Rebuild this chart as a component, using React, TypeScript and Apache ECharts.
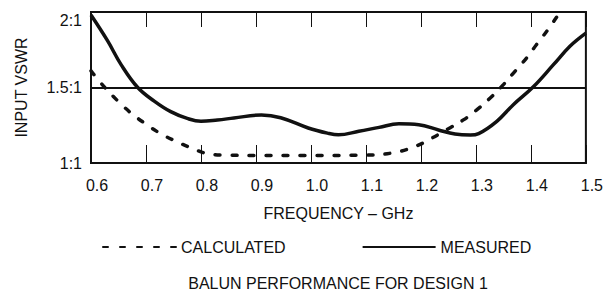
import React, { useEffect, useRef } from "react";
import * as echarts from "echarts";

const xTicks = [0.6, 0.7, 0.8, 0.9, 1.0, 1.1, 1.2, 1.3, 1.4, 1.5];
const yTickLabels: Record<string, string> = { "1": "1:1", "1.5": "1.5:1", "2": "2:1" };

const measuredFreq = [0.6, 0.63, 0.655, 0.685, 0.715, 0.745, 0.775, 0.8, 0.83, 0.86, 0.91, 0.945, 0.995, 1.03, 1.05, 1.087, 1.124, 1.16, 1.196, 1.232, 1.262, 1.29, 1.305, 1.338, 1.368, 1.404, 1.441, 1.471, 1.5];
const measuredVswr = [1.98, 1.81, 1.65, 1.5, 1.41, 1.34, 1.295, 1.276, 1.285, 1.298, 1.318, 1.3, 1.232, 1.198, 1.187, 1.21, 1.236, 1.26, 1.254, 1.219, 1.192, 1.186, 1.195, 1.276, 1.386, 1.503, 1.651, 1.773, 1.86];

const calcFreq = [0.6, 0.625, 0.649, 0.673, 0.697, 0.724, 0.752, 0.782, 0.812, 0.85, 0.9, 1.0, 1.1, 1.15, 1.19, 1.22, 1.25, 1.278, 1.302, 1.326, 1.35, 1.371, 1.392, 1.41, 1.431, 1.45, 1.47];
const calcVswr = [1.61, 1.5, 1.41, 1.33, 1.265, 1.2, 1.148, 1.1, 1.062, 1.052, 1.05, 1.05, 1.052, 1.068, 1.11, 1.165, 1.227, 1.287, 1.353, 1.43, 1.519, 1.607, 1.695, 1.783, 1.883, 1.982, 2.08];

const FONT = "Liberation Sans, Arial, sans-serif";
const FS = 16;

export default function App() {
  const ref = useRef<HTMLDivElement>(null);
  useEffect(() => {
    if (!ref.current) return;
    const chart = echarts.init(ref.current, null, { renderer: "svg" });
    const measured = measuredFreq.map((f, i) => [f, measuredVswr[i]]);
    const calc = calcFreq.map((f, i) => [f, calcVswr[i]]);
    chart.setOption({
      animation: false,
      backgroundColor: "#fff",
      textStyle: { fontFamily: FONT, color: "#111" },
      grid: {
        left: 91,
        right: 18,
        top: 12,
        bottom: 130,
        show: true,
        borderColor: "#111",
        borderWidth: 2,
      },
      legend: {
        left: 97,
        top: 234,
        itemWidth: 73,
        itemHeight: 14,
        itemGap: 76,
        data: ["CALCULATED", "MEASURED"],
        itemStyle: { opacity: 0 },
        textStyle: { fontSize: FS, color: "#111", fontFamily: FONT },
      },
      graphic: [
        {
          type: "text",
          x: 338,
          y: 283,
          style: {
            text: "BALUN PERFORMANCE FOR DESIGN 1",
            fontSize: FS,
            fontFamily: FONT,
            fill: "#111",
            textAlign: "center",
            textVerticalAlign: "middle",
          },
        },
      ],
      xAxis: [
        {
          type: "value",
          min: xTicks[0],
          max: xTicks[xTicks.length - 1],
          interval: 0.1,
          position: "bottom",
          name: "FREQUENCY – GHz",
          nameLocation: "middle",
          nameGap: 42,
          nameTextStyle: { fontSize: FS, color: "#111", fontFamily: FONT },
          axisLine: { show: true, lineStyle: { color: "#111", width: 2 } },
          axisTick: { show: true, inside: true, length: 18, lineStyle: { color: "#111", width: 1 } },
          axisLabel: {
            fontSize: FS,
            color: "#111",
            margin: 14,
            padding: [0, 0, 0, 12],
            formatter: (v: number) => v.toFixed(1),
          },
          splitLine: { show: false },
        },
        {
          type: "value",
          min: xTicks[0],
          max: xTicks[xTicks.length - 1],
          interval: 0.1,
          position: "top",
          axisLine: { show: true, lineStyle: { color: "#111", width: 2 } },
          axisTick: { show: true, inside: true, length: 15, lineStyle: { color: "#111", width: 1 } },
          axisLabel: { show: false },
          splitLine: { show: false },
        },
      ],
      yAxis: {
        type: "value",
        min: 1,
        max: 2,
        interval: 0.5,
        name: "INPUT VSWR",
        nameLocation: "middle",
        nameGap: 62,
        nameTextStyle: { fontSize: FS, color: "#111", fontFamily: FONT },
        axisLine: { show: true, lineStyle: { color: "#111", width: 2 } },
        axisTick: { show: false },
        axisLabel: {
          fontSize: FS,
          color: "#111",
          margin: 9,
          verticalAlignMaxLabel: "top",
          formatter: (v: number) => yTickLabels[String(v)] ?? "",
        },
        splitLine: { show: true, lineStyle: { color: "#111", width: 2 } },
      },
      series: [
        {
          name: "CALCULATED",
          type: "line",
          data: calc,
          smooth: 0.4,
          symbol: "none",
          clip: true,
          color: "#111",
          lineStyle: { color: "#111", width: 3.5, type: [5, 12], cap: "round" },
        },
        {
          name: "MEASURED",
          type: "line",
          data: measured,
          smooth: 0.4,
          symbol: "none",
          clip: true,
          color: "#111",
          lineStyle: { color: "#111", width: 3.5 },
        },
      ],
    });
    return () => chart.dispose();
  }, []);
  return <div ref={ref} style={{ position: "absolute", left: 0, top: 0, width: 606, height: 293 }} />;
}
